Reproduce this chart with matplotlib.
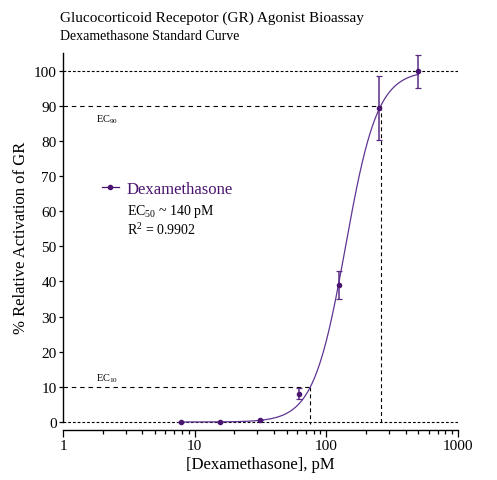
import numpy as np
import matplotlib
matplotlib.use("Agg")
import matplotlib.pyplot as plt
from matplotlib.lines import Line2D
from matplotlib.ticker import LogLocator, FixedLocator, NullFormatter

# ---- data ----
conc = [7.8125, 15.625, 31.25, 62.5, 125, 250, 500]          # pM
activation = [0.0, 0.1, 0.65, 8.1, 39.1, 89.4, 99.8]        # %
errors = [0.0, 0.0, 0.0, 1.6, 4.0, 9.0, 4.6]
series_name = "Dexamethasone"
ec50 = 140.0
hill = 3.57
top = 100.0
bottom = 0.0
r2 = 0.9902
xticks = [1, 10, 100, 1000]
xticklabels = ["1", "10", "100", "1000"]
yticks = list(range(0, 101, 10))

plt.rcParams['font.family'] = ['Liberation Serif', 'DejaVu Serif']
plt.rcParams['mathtext.fontset'] = 'custom'
plt.rcParams['mathtext.rm'] = 'Liberation Serif'
plt.rcParams['mathtext.it'] = 'Liberation Serif:italic'
plt.rcParams['lines.scale_dashes'] = False

main_col = '#4A1570'
curve_col = '#5E3592'
err_col = '#5B2C86'

fig = plt.figure(figsize=(4.97, 4.81), dpi=100)
ax = fig.add_axes([63/497, 1-430.7/481, (458-63)/497, (430.7-54.1)/481])
ax.set_xscale('log')
ax.set_xlim(1, 1000)
ax.set_ylim(-2.19, 105)

def model(x):
    return bottom + (top - bottom) / (1 + (ec50 / x) ** hill)

ec10 = ec50 * (10/90) ** (1/hill)
ec90 = ec50 * (90/10) ** (1/hill)

# reference lines
ax.plot([1, 1000], [100, 100], color='black', lw=0.8, dashes=(2.0, 1.4))
ax.plot([1, 1000], [0, 0], color='black', lw=0.8, dashes=(2.0, 1.4))
ax.plot([1, ec90], [90, 90], color='black', lw=0.8, dashes=(3.2, 2.8))
ax.plot([1, ec10], [10, 10], color='black', lw=0.8, dashes=(3.2, 2.8))
ax.plot([ec90, ec90], [90, -0.6], color='black', lw=0.8, dashes=(2.8, 2.2))
ax.plot([ec10, ec10], [10, -0.6], color='black', lw=0.8, dashes=(2.8, 2.2))

# fitted curve
xs = np.logspace(np.log10(conc[0]), np.log10(conc[-1]), 400)
ax.plot(xs, model(xs), color=curve_col, lw=0.9, zorder=3)

# data with error bars
ax.errorbar(conc, activation, yerr=errors, fmt='o', color=main_col, ecolor=err_col,
            elinewidth=1.1, capsize=2.0, capthick=0.9, markersize=3.0, zorder=4,
            clip_on=False)

# EC labels
ax.text(96/497, 1-120/481, r'EC$_{\mathrm{90}}$', transform=fig.transFigure,
        fontsize=7.5, va='center', ha='left')
ax.text(96/497, 1-379/481, r'EC$_{\mathrm{10}}$', transform=fig.transFigure,
        fontsize=7.5, va='center', ha='left')

# legend
h = Line2D([], [], color=main_col, marker='o', markersize=3.0, lw=0.9)
leg = fig.legend(handles=[h], labels=[series_name], loc='center left',
                 bbox_to_anchor=(102/497, 1-190/481), frameon=False,
                 fontsize=12, handlelength=1.0, handletextpad=0.45,
                 borderpad=0, borderaxespad=0)
for t in leg.get_texts():
    t.set_color(main_col)
fig.text(127/497, 1-212/481, r'EC$_{\mathrm{50}}$ ~ 140 pM', fontsize=10, va='center')
fig.text(127/497, 1-230/481, r'R$^{\mathrm{2}}$ = %.4f' % r2, fontsize=10, va='center')

# axes styling
for s in ['top', 'right']:
    ax.spines[s].set_visible(False)
ax.spines['left'].set_bounds(0, 105)
ax.spines['left'].set_linewidth(1.0)
ax.spines['bottom'].set_linewidth(1.0)
ax.set_yticks(yticks)
ax.set_yticklabels([str(v) for v in yticks], fontsize=11)
ax.xaxis.set_major_locator(FixedLocator(xticks))
ax.set_xticklabels(xticklabels, fontsize=11)
ax.xaxis.set_minor_locator(LogLocator(base=10, subs=np.arange(2, 10)))
ax.xaxis.set_minor_formatter(NullFormatter())
ax.tick_params(axis='y', direction='out', length=3, width=0.9, pad=1.5)
ax.tick_params(axis='x', which='major', direction='out', length=5, width=0.9, pad=2)
ax.tick_params(axis='x', which='minor', direction='out', length=2.6, width=0.9)

ax.set_xlabel('[Dexamethasone], pM', fontsize=12, labelpad=2.5)
ax.set_ylabel('% Relative Activation of GR', fontsize=12)
ax.yaxis.set_label_coords(-0.086, 0.512)

fig.text(60/497, 1-18/481, 'Glucocorticoid Recepotor (GR) Agonist Bioassay', fontsize=11, va='center')
fig.text(60/497, 1-36/481, 'Dexamethasone Standard Curve', fontsize=10, va='center')

fig.savefig('out.png', dpi=100)
